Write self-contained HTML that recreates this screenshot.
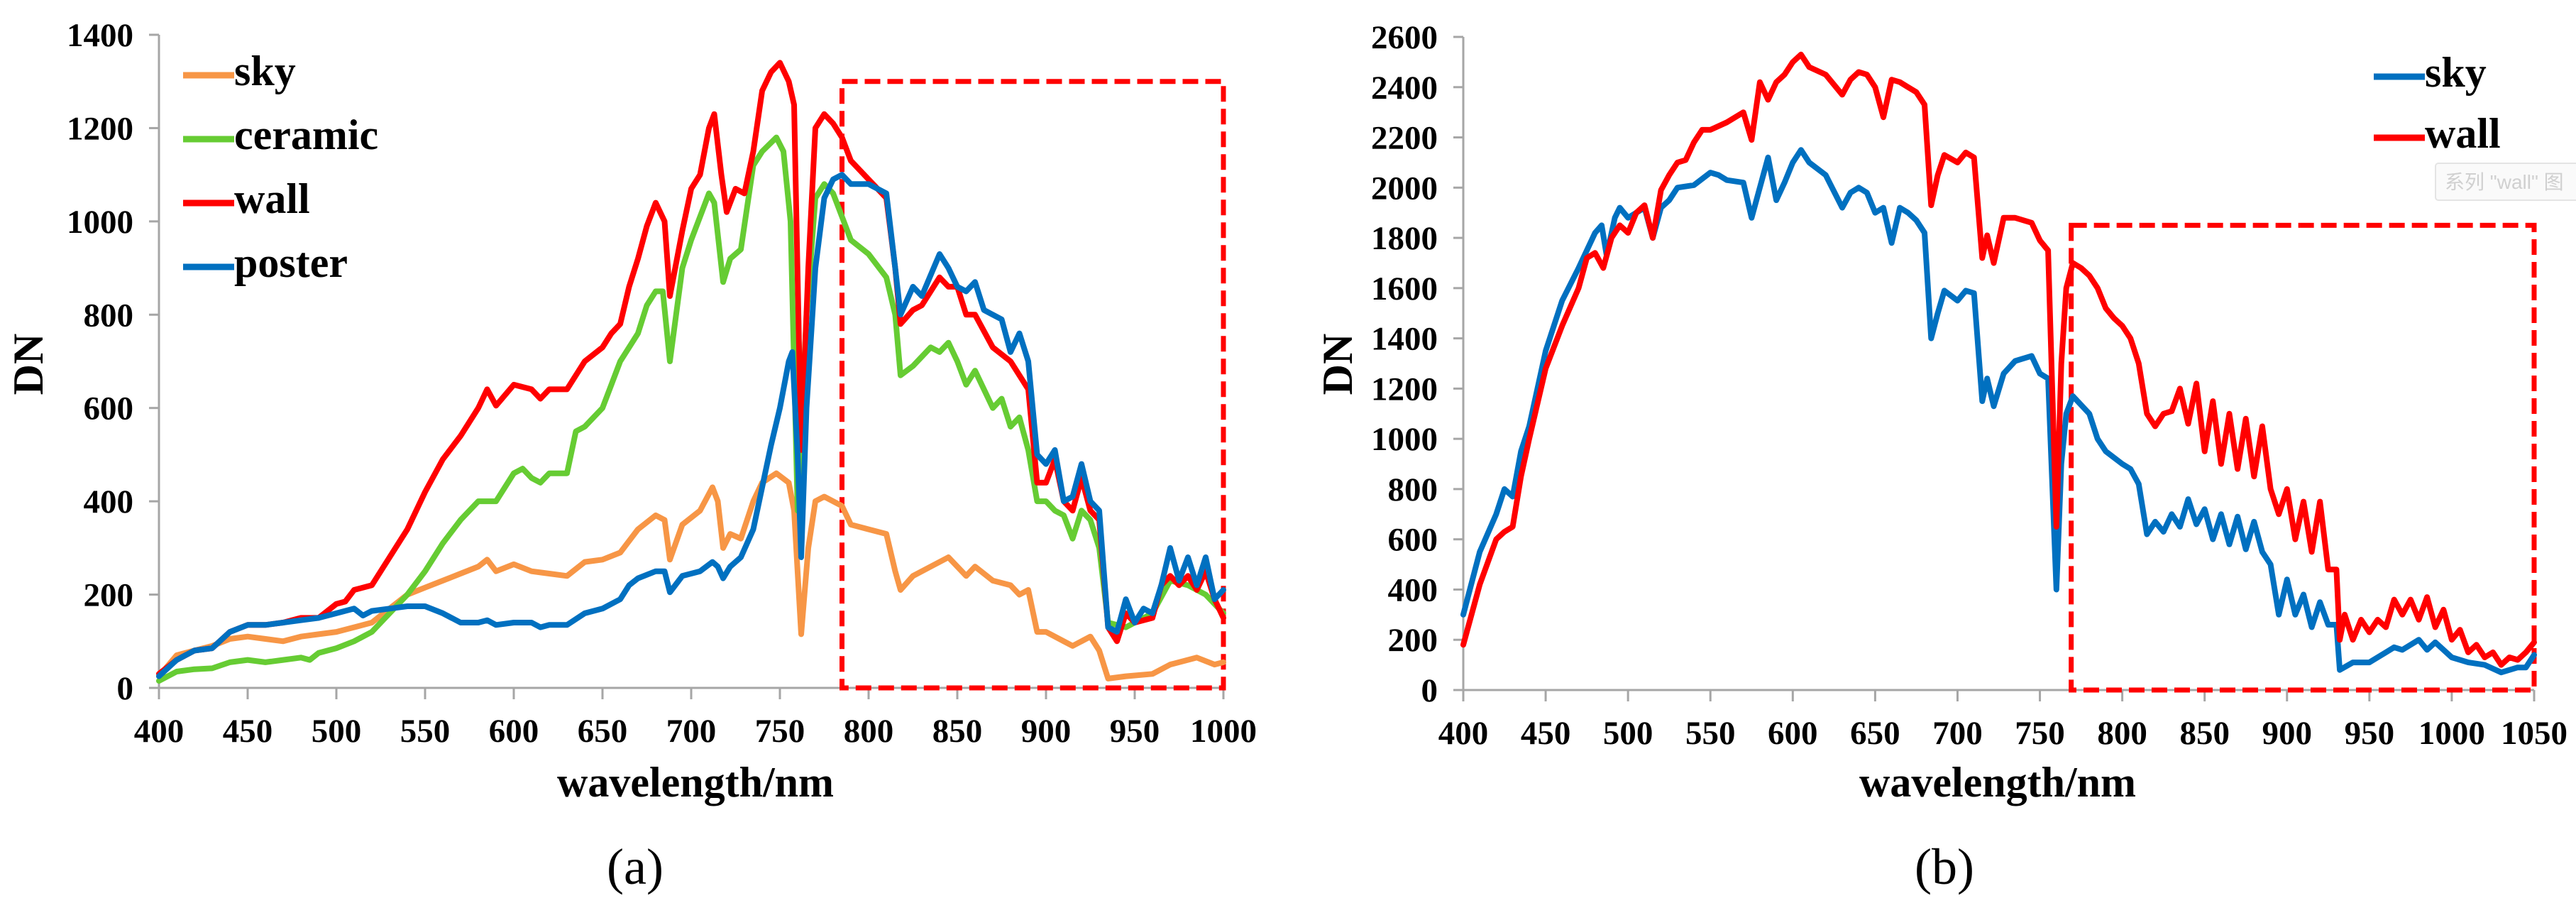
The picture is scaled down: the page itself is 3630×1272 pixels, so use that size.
<!DOCTYPE html>
<html><head><meta charset="utf-8"><style>
html,body{margin:0;padding:0;background:#fff;}
svg{display:block;font-family:"Liberation Serif","Noto Serif CJK SC",serif;}
</style></head><body>
<svg id="c" width="3630" height="1272" viewBox="0 0 3630 1272" xmlns="http://www.w3.org/2000/svg"></svg>
<script>
// ---- Chart (a) data: [wavelength nm, DN]
const aTicksX = [400,450,500,550,600,650,700,750,800,850,900,950,1000];
const aTicksY = [0,200,400,600,800,1000,1200,1400];
const aSky = [[400,25],[410,70],[420,80],[430,90],[440,105],[450,110],[460,105],[470,100],[480,110],[490,115],[500,120],[510,130],[520,140],[530,170],[540,200],[550,215],[560,230],[570,245],[580,260],[585,275],[590,250],[600,265],[610,250],[620,245],[630,240],[640,270],[650,275],[660,290],[670,340],[680,370],[685,360],[688,275],[695,350],[705,380],[712,430],[715,400],[718,300],[722,330],[728,320],[735,400],[740,440],[748,460],[755,440],[758,380],[762,115],[766,300],[770,400],[775,410],[785,390],[790,350],[800,340],[810,330],[815,250],[818,210],[825,240],[835,260],[845,280],[850,260],[855,240],[860,260],[870,230],[880,220],[885,200],[890,210],[895,120],[900,120],[910,100],[915,90],[925,110],[930,80],[935,20],[945,25],[960,30],[970,50],[985,65],[995,50],[1000,55]];
const aCeramic = [[400,15],[410,35],[420,40],[430,42],[440,55],[450,60],[460,55],[470,60],[480,65],[485,60],[490,75],[500,85],[510,100],[520,120],[530,160],[540,200],[550,250],[560,310],[570,360],[580,400],[590,400],[600,460],[605,470],[610,450],[615,440],[620,460],[630,460],[635,550],[640,560],[650,600],[655,650],[660,700],[670,760],[675,820],[680,850],[684,850],[688,700],[695,900],[700,960],[710,1060],[713,1040],[718,870],[722,920],[728,940],[735,1120],[740,1150],[748,1180],[752,1150],[756,1000],[760,380],[765,800],[770,1050],[775,1080],[780,1060],[790,960],[800,930],[810,880],[815,800],[818,670],[825,690],[835,730],[840,720],[845,740],[850,700],[855,650],[860,680],[865,640],[870,600],[875,620],[880,560],[885,580],[890,510],[895,400],[900,400],[905,380],[910,370],[915,320],[920,380],[925,360],[930,300],[935,140],[945,130],[950,140],[960,160],[970,230],[980,220],[990,200],[1000,160]];
const aWall = [[400,30],[410,60],[420,80],[430,85],[440,120],[450,135],[460,135],[470,140],[480,150],[490,150],[500,180],[505,185],[510,210],[520,220],[530,280],[540,340],[550,420],[560,490],[570,540],[580,600],[585,640],[590,605],[600,650],[610,640],[615,620],[620,640],[630,640],[640,700],[650,730],[655,760],[660,780],[665,860],[670,920],[675,990],[680,1040],[685,1000],[688,840],[695,980],[700,1070],[705,1100],[710,1200],[713,1230],[717,1100],[720,1020],[725,1070],[730,1060],[735,1150],[740,1280],[745,1320],[750,1340],[755,1300],[758,1250],[762,510],[766,900],[770,1200],[775,1230],[780,1210],[785,1180],[790,1130],[800,1090],[810,1050],[815,900],[818,780],[825,810],[830,820],[840,880],[845,860],[850,860],[855,800],[860,800],[870,730],[880,700],[890,640],[895,440],[900,440],[905,490],[910,400],[915,380],[920,450],[925,380],[930,360],[935,130],[940,100],[945,160],[950,140],[960,150],[965,220],[970,240],[975,220],[980,240],[985,210],[990,250],[995,190],[1000,150]];
const aPoster = [[400,25],[410,60],[420,80],[430,85],[440,120],[450,135],[460,135],[470,140],[480,145],[490,150],[500,160],[510,170],[515,155],[520,165],[530,170],[540,175],[550,175],[560,160],[570,140],[580,140],[585,145],[590,135],[600,140],[610,140],[615,130],[620,135],[630,135],[640,160],[650,170],[660,190],[665,220],[670,235],[680,250],[685,250],[688,205],[695,240],[705,250],[712,270],[715,260],[718,235],[722,260],[728,280],[735,340],[740,430],[745,520],[750,600],[755,700],[757,720],[760,500],[762,280],[765,600],[770,900],[775,1050],[780,1090],[785,1100],[790,1080],[800,1080],[810,1060],[815,900],[818,800],[825,860],[830,840],[840,930],[845,900],[850,860],[855,850],[860,870],[865,810],[870,800],[875,790],[880,720],[885,760],[890,700],[895,500],[900,480],[905,510],[910,400],[915,410],[920,480],[925,400],[930,380],[935,130],[940,120],[945,190],[950,140],[955,170],[960,160],[965,220],[970,300],[975,230],[980,280],[985,220],[990,280],[995,190],[1000,210]];
// ---- Chart (b) data
const bTicksX = [400,450,500,550,600,650,700,750,800,850,900,950,1000,1050];
const bTicksY = [0,200,400,600,800,1000,1200,1400,1600,1800,2000,2200,2400,2600];
const bSky = [[400,300],[410,550],[420,700],[425,800],[430,770],[435,950],[440,1050],[450,1350],[460,1550],[470,1680],[480,1820],[484,1850],[487,1730],[492,1880],[495,1920],[500,1880],[505,1900],[510,1920],[515,1800],[520,1920],[525,1950],[530,2000],[540,2010],[550,2060],[555,2050],[560,2030],[570,2020],[575,1880],[580,2000],[585,2120],[590,1950],[595,2020],[600,2100],[605,2150],[610,2100],[620,2050],[630,1920],[635,1980],[640,2000],[645,1980],[650,1900],[655,1920],[660,1780],[665,1920],[670,1900],[675,1870],[680,1820],[684,1400],[688,1500],[692,1590],[700,1550],[705,1590],[710,1580],[715,1150],[718,1240],[722,1130],[728,1260],[735,1310],[745,1330],[750,1260],[755,1240],[760,400],[763,900],[766,1100],[770,1170],[780,1100],[785,1000],[790,950],[800,900],[805,880],[810,820],[815,620],[820,670],[825,630],[830,700],[835,650],[840,760],[845,660],[850,720],[855,600],[860,700],[865,580],[870,690],[875,560],[880,670],[885,550],[890,500],[895,300],[900,440],[905,300],[910,380],[915,250],[920,350],[925,260],[930,260],[932,80],[940,110],[950,110],[960,150],[965,170],[970,160],[980,200],[985,160],[990,190],[1000,130],[1010,110],[1020,100],[1030,70],[1040,90],[1045,90],[1050,140]];
const bWall = [[400,180],[410,420],[420,600],[425,630],[430,650],[435,850],[440,1000],[450,1280],[460,1450],[470,1600],[475,1720],[480,1740],[485,1680],[490,1800],[495,1850],[500,1820],[505,1900],[510,1930],[515,1800],[520,1990],[525,2050],[530,2100],[535,2110],[540,2180],[545,2230],[550,2230],[560,2260],[570,2300],[575,2190],[580,2420],[585,2350],[590,2420],[595,2450],[600,2500],[605,2530],[610,2480],[620,2450],[630,2370],[635,2430],[640,2460],[645,2450],[650,2400],[655,2280],[660,2430],[665,2420],[670,2400],[675,2380],[680,2330],[684,1930],[688,2050],[692,2130],[700,2100],[705,2140],[710,2120],[715,1720],[718,1810],[722,1700],[728,1880],[735,1880],[745,1860],[750,1790],[755,1750],[760,650],[763,1300],[766,1600],[770,1700],[775,1680],[780,1650],[785,1600],[790,1520],[795,1480],[800,1450],[805,1400],[810,1300],[815,1100],[820,1050],[825,1100],[830,1110],[835,1200],[840,1060],[845,1220],[850,950],[855,1150],[860,900],[865,1100],[870,880],[875,1080],[880,850],[885,1050],[890,800],[895,700],[900,800],[905,600],[910,750],[915,550],[920,750],[925,480],[930,480],[932,200],[935,300],[940,200],[945,280],[950,230],[955,280],[960,250],[965,360],[970,300],[975,360],[980,280],[985,370],[990,250],[995,320],[1000,200],[1005,240],[1010,150],[1015,180],[1020,130],[1025,150],[1030,100],[1035,130],[1040,120],[1045,150],[1050,190]];

const NS = "http://www.w3.org/2000/svg";
const svg = document.getElementById('c');
function el(tag, attrs, parent){ const e=document.createElementNS(NS,tag); for(const k in attrs) e.setAttribute(k,attrs[k]); (parent||svg).appendChild(e); return e; }

function chart(cfg){
  const g = el('g',{});
  
  
  const sx = v => cfg.x0 + (v-cfg.xmin)/(cfg.xmax-cfg.xmin)*(cfg.x1-cfg.x0);
  const sy = v => cfg.y0 - (v-cfg.ymin)/(cfg.ymax-cfg.ymin)*(cfg.y0-cfg.y1);
  // axes
  const ax = el('line',{x1:cfg.x0-14,y1:cfg.y0,x2:cfg.x1,y2:cfg.y0,stroke:'#a6a6a6','stroke-width':3},g);
   
  const ay = el('line',{x1:cfg.x0,y1:cfg.y1,x2:cfg.x0,y2:cfg.y0+16,stroke:'#a6a6a6','stroke-width':3},g);
   
  cfg.ticksY.forEach(t=>{
    el('line',{x1:cfg.x0-14,y1:sy(t),x2:cfg.x0,y2:sy(t),stroke:'#a6a6a6','stroke-width':3},g);
    const tx = el('text',{x:cfg.x0-36,y:sy(t)+16,'text-anchor':'end','font-size':47,'font-weight':'bold',fill:'#000'},g);
    tx.textContent=t;
     
  });
  cfg.ticksX.forEach(t=>{
    el('line',{x1:sx(t),y1:cfg.y0,x2:sx(t),y2:cfg.y0+16,stroke:'#a6a6a6','stroke-width':3},g);
    const tx = el('text',{x:sx(t),y:cfg.y0+76,'text-anchor':'middle','font-size':47,'font-weight':'bold',fill:'#000'},g);
    tx.textContent=t;
     
  });
  // red dashed box
  const bx = el('rect',{x:sx(cfg.box[0]),y:sy(cfg.box[3]),width:sx(cfg.box[1])-sx(cfg.box[0]),height:sy(cfg.box[2])-sy(cfg.box[3]),fill:'none',stroke:'#ff0000','stroke-width':7,'stroke-dasharray':'22 10'},g);
   
  // series
  cfg.series.forEach(s=>{
    const d = s.data.map((p,i)=>(i?'L':'M')+sx(p[0]).toFixed(1)+','+sy(p[1]).toFixed(1)).join(' ');
    const p = el('path',{d:d,fill:'none',stroke:s.color,'stroke-width':8,'stroke-linejoin':'round','stroke-linecap':'round'},g);
    
    
  });
  // legend
  cfg.legend.forEach((L,i)=>{
    const s = cfg.series.find(q=>q.name===L.key);
    const ln = el('line',{x1:L.x,y1:L.y-14,x2:L.x+72,y2:L.y-14,stroke:s.color,'stroke-width':9},g);
     
    const tx = el('text',{x:L.x+72,y:L.y,'font-size':60,'font-weight':'bold',fill:'#000'},g);
    tx.textContent = L.label;
     
  });
  const xt = el('text',{x:cfg.xTitle[0],y:cfg.xTitle[1],'text-anchor':'middle','font-size':60,'font-weight':'bold',fill:'#000'},g);
  xt.textContent='wavelength/nm';
   
  const yt = el('text',{x:0,y:0,'text-anchor':'middle','font-size':60,'font-weight':'bold',fill:'#000',transform:'translate('+cfg.yTitle[0]+','+cfg.yTitle[1]+') rotate(-90)'},g);
  yt.textContent='DN';
   
  const cap = el('text',{x:cfg.cap[0],y:cfg.cap[1],'text-anchor':'middle','font-size':72,fill:'#000'},g);
  cap.textContent=cfg.capText;
   
}

chart({name:'chart-a',x0:224,x1:1724,y0:969,y1:49,xmin:400,xmax:1000,ymin:0,ymax:1400,
  ticksX:aTicksX,ticksY:aTicksY,box:[785,1000,0,1300],
  series:[{name:'sky',color:'#F79646',data:aSky},{name:'ceramic',color:'#66CC33',data:aCeramic},{name:'wall',color:'#FF0000',data:aWall},{name:'poster',color:'#0070C0',data:aPoster}],
  legend:[{key:'sky',label:'sky',x:258,y:120},{key:'ceramic',label:'ceramic',x:258,y:210},{key:'wall',label:'wall',x:258,y:300},{key:'poster',label:'poster',x:258,y:390}],
  xTitle:[980,1122],yTitle:[60,513],cap:[895,1245],capText:'(a)'});

chart({name:'chart-b',x0:2062,x1:3571,y0:972,y1:52,xmin:400,xmax:1050,ymin:0,ymax:2600,
  ticksX:bTicksX,ticksY:bTicksY,box:[769,1050,0,1850],
  series:[{name:'sky',color:'#0070C0',data:bSky},{name:'wall',color:'#FF0000',data:bWall}],
  legend:[{key:'sky',label:'sky',x:3345,y:122},{key:'wall',label:'wall',x:3345,y:208}],
  xTitle:[2815,1122],yTitle:[1905,513],cap:[2740,1245],capText:'(b)'});

// faint tooltip remnant
const tip = el('rect',{x:3432,y:230,width:205,height:52,fill:'#fafafa',stroke:'#e4e4e4','stroke-width':2,rx:4});
 
const tipT = el('text',{x:3445,y:266,'font-size':28,fill:'#d0d0d0','font-family':'"Liberation Sans","Noto Sans CJK SC",sans-serif'});
tipT.textContent='系列 "wall" 图';
 
</script>
</body></html>
